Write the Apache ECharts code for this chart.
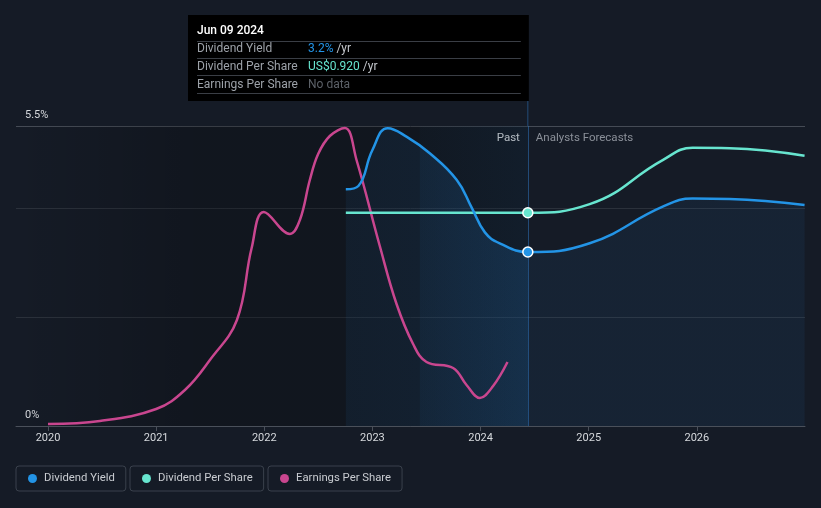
<!DOCTYPE html>
<html>
<head>
<meta charset="utf-8">
<script src="https://cdn.jsdelivr.net/npm/echarts@6/dist/echarts.min.js"></script>
<style>
  html, body { margin: 0; padding: 0; background: #151b26; }
  #chart { width: 821px; height: 508px; }
</style>
</head>
<body>
<div id="chart"></div>
<script>
// ---- data ----
const yearTicks = [2020, 2021, 2022, 2023, 2024, 2025, 2026];
const nowT = 2024.437;           // Jun 09 2024
const pastStartT = 2022.754;     // first dividend data
const lastYearT = 2023.437;      // start of trailing 12 months band
const yieldTickLabels = { 0: '0%', 5.5: '5.5%' };

// Dividend Yield (%)
const dividendYield = [
  [2022.754, 4.34], [2022.870, 4.40], [2023.000, 5.06], [2023.142, 5.46],
  [2023.318, 5.30], [2023.530, 5.00], [2023.780, 4.51], [2023.919, 4.00],
  [2024.040, 3.55], [2024.177, 3.35], [2024.437, 3.19],
  [2025.009, 3.35], [2025.684, 4.02], [2025.961, 4.17], [2026.303, 4.16], [2026.996, 4.05]
];
// Dividend Per Share (US$)
const dividendPerShare = [
  [2022.754, 0.92], [2023.600, 0.92], [2024.437, 0.92],
  [2025.009, 0.957], [2025.684, 1.147], [2025.961, 1.200], [2026.303, 1.198], [2026.996, 1.166]
];
// Earnings Per Share (US$)
const earningsPerShare = [
  [2020.000, 0.010], [2020.480, 0.025], [2021.000, 0.085], [2021.266, 0.18],
  [2021.497, 0.33], [2021.747, 0.53], [2021.883, 0.89], [2021.995, 1.07],
  [2022.237, 0.96], [2022.329, 1.03], [2022.421, 1.23],
  [2022.498, 1.36], [2022.606, 1.45], [2022.745, 1.49], [2022.853, 1.33],
  [2023.068, 0.90], [2023.223, 0.61], [2023.376, 0.41],
  [2023.500, 0.32], [2023.746, 0.29], [2023.870, 0.205],
  [2023.993, 0.14], [2024.116, 0.20], [2024.249, 0.32]
];
const nowYield = 3.19;
const nowDps = 0.92;

const BLUE = '#2394e6', TEAL = '#67e5cf', PINK = '#c9468f';
const FONT = 'Roboto, "Noto Sans", sans-serif';

const xMin = 2019.704, xMax = 2027.0;
const bboxW = 2027.0 - pastStartT;
const o1 = (lastYearT - pastStartT) / bboxW;
const o2 = (nowT - pastStartT) / bboxW;

const chart = echarts.init(document.getElementById('chart'), null, { renderer: 'canvas' });

const legendCommon = {
  top: 466, orient: 'horizontal', icon: 'circle', itemWidth: 9, itemHeight: 9,
  borderColor: '#3a414c', borderWidth: 1, borderRadius: 3,
  padding: [7, 11, 7, 12],
  textStyle: { color: '#c9ccd1', fontSize: 11.3, fontFamily: FONT, padding: [0, 0, 0, 2] }
};

chart.setOption({
  backgroundColor: '#151b26',
  animation: false,
  grid: { left: 16, right: 16, top: 126, bottom: 82, containLabel: false },
  legend: [
    Object.assign({}, legendCommon, { left: 16, data: ['Dividend Yield'] }),
    Object.assign({}, legendCommon, { left: 130, data: ['Dividend Per Share'] }),
    Object.assign({}, legendCommon, { left: 268, data: ['Earnings Per Share'] })
  ],
  xAxis: {
    type: 'value', min: xMin, max: xMax,
    splitLine: { show: false },
    axisLine: { lineStyle: { color: '#4a505a', width: 1 } },
    axisTick: { show: true, customValues: yearTicks, length: 5, lineStyle: { color: '#4a505a' } },
    axisLabel: {
      customValues: yearTicks, color: '#d6d9dd', fontSize: 11, fontFamily: FONT, margin: 7,
      formatter: v => String(Math.round(v))
    }
  },
  yAxis: [
    {
      type: 'value', min: 0, max: 5.5, interval: 2,
      axisLine: { show: false }, axisTick: { show: false },
      axisLabel: {
        inside: true, margin: 9, align: 'left', verticalAlign: 'bottom',
        color: '#d6d9dd', fontSize: 11, fontFamily: FONT, padding: [0, 0, 5, 0],
        formatter: v => yieldTickLabels[v] || ''
      },
      splitLine: { lineStyle: { color: ['#454b55', '#2b313b', '#2b313b', '#454b55'], width: 1 } }
    },
    { type: 'value', min: 0, max: 1.294, show: false },
    { type: 'value', min: 0, max: 1.5, show: false }
  ],
  series: [
    {
      name: 'Earnings Per Share', type: 'line', yAxisIndex: 2,
      data: earningsPerShare, showSymbol: false, smooth: 0.4,
      lineStyle: { color: PINK, width: 2.5 }, itemStyle: { color: PINK },
      markArea: {
        silent: true,
        data: [
          [{
            xAxis: xMin,
            itemStyle: {
              color: new echarts.graphic.LinearGradient(0, 0, 1, 0, [
                { offset: 0, color: 'rgba(0,0,0,0)' },
                { offset: 0.35, color: 'rgba(0,0,0,0.2)' },
                { offset: 1, color: 'rgba(0,0,0,0.2)' }
              ])
            }
          }, { xAxis: nowT }],
          [{
            xAxis: lastYearT,
            itemStyle: {
              color: new echarts.graphic.LinearGradient(0, 0, 1, 0, [
                { offset: 0, color: 'rgba(33,150,243,0.02)' },
                { offset: 1, color: 'rgba(33,150,243,0.06)' }
              ])
            }
          }, { xAxis: nowT }]
        ]
      }
    },
    {
      name: 'Dividend Per Share', type: 'line', yAxisIndex: 1,
      data: dividendPerShare, showSymbol: false, smooth: 0.45,
      lineStyle: { color: TEAL, width: 2.5 }, itemStyle: { color: TEAL },
      markPoint: {
        silent: true, symbol: 'circle', symbolSize: 10,
        label: { show: false },
        itemStyle: { color: TEAL, borderColor: '#ffffff', borderWidth: 1.5 },
        data: [{ coord: [nowT, nowDps] }]
      }
    },
    {
      name: 'Dividend Yield', type: 'line', yAxisIndex: 0,
      data: dividendYield, showSymbol: false, smooth: 0.45,
      lineStyle: { color: BLUE, width: 2.5 }, itemStyle: { color: BLUE },
      areaStyle: {
        origin: 'start',
        color: new echarts.graphic.LinearGradient(0, 0, 1, 0, [
          { offset: 0, color: 'rgba(40,140,230,0.10)' },
          { offset: o1, color: 'rgba(40,140,230,0.12)' },
          { offset: o1 + 0.0001, color: 'rgba(40,140,230,0.16)' },
          { offset: o2, color: 'rgba(40,140,230,0.24)' },
          { offset: o2 + 0.0001, color: 'rgba(40,140,230,0.10)' },
          { offset: 1, color: 'rgba(40,140,230,0.10)' }
        ])
      },
      markLine: {
        silent: true, symbol: 'none', label: { show: false },
        lineStyle: { color: 'rgba(45,115,185,0.55)', width: 1, type: 'solid' },
        data: [{ xAxis: nowT }]
      },
      markPoint: {
        silent: true, symbol: 'circle', symbolSize: 10,
        label: { show: false },
        itemStyle: { color: BLUE, borderColor: '#ffffff', borderWidth: 1.5 },
        data: [{ coord: [nowT, nowYield] }]
      }
    }
  ]
});

// overlays positioned from the axis scale
const nowX = chart.convertToPixel({ xAxisIndex: 0 }, nowT);
const gridTop = chart.convertToPixel({ yAxisIndex: 0 }, 5.5);
const tipRight = nowX + 1;
const tipLeft = 188, tipTop = 15, tipBottom = 101;
const rowY = [49, 66.5, 84.5];
const sepY = [41.5, 58.5, 75.5, 93.5];

const tipChildren = [
  { type: 'rect', shape: { x: tipLeft, y: tipTop, width: tipRight - tipLeft, height: tipBottom - tipTop },
    style: { fill: '#000000' } },
  { type: 'text', x: tipLeft + 9, y: 31,
    style: { text: 'Jun 09 2024', fill: '#ffffff', font: '500 12px ' + FONT, verticalAlign: 'middle' } }
];
sepY.forEach(y => tipChildren.push({
  type: 'line', shape: { x1: tipLeft + 9, y1: y, x2: tipRight - 8, y2: y },
  style: { stroke: '#3a3e45', lineWidth: 1 }
}));
const rows = [
  ['Dividend Yield', '3.2%', BLUE, ' /yr'],
  ['Dividend Per Share', 'US$0.920', TEAL, ' /yr'],
  ['Earnings Per Share', 'No data', '#5c6168', '']
];
rows.forEach((r, i) => {
  tipChildren.push({ type: 'text', x: tipLeft + 9, y: rowY[i],
    style: { text: r[0], fill: '#9da2a9', font: '12px ' + FONT, verticalAlign: 'middle' } });
  tipChildren.push({ type: 'text', x: tipLeft + 120, y: rowY[i],
    style: {
      text: '{v|' + r[1] + '}{u|' + r[3] + '}', verticalAlign: 'middle',
      rich: {
        v: { fill: r[2], font: '12px ' + FONT },
        u: { fill: '#c4c7cc', font: '12px ' + FONT }
      }
    } });
});

chart.setOption({
  graphic: [
    { type: 'line', silent: true, shape: { x1: nowX, y1: tipBottom, x2: nowX, y2: gridTop },
      style: { stroke: 'rgba(45,115,185,0.55)', lineWidth: 1 } },
    { type: 'text', silent: true, x: nowX - 8, y: 138,
      style: { text: 'Past', fill: '#e6e8eb', font: '11.5px ' + FONT, align: 'right', verticalAlign: 'middle' } },
    { type: 'text', silent: true, x: nowX + 8, y: 138,
      style: { text: 'Analysts Forecasts', fill: '#8b9099', font: '11.5px ' + FONT, align: 'left', verticalAlign: 'middle' } },
    { type: 'group', silent: true, children: tipChildren }
  ]
});
</script>
</body>
</html>
